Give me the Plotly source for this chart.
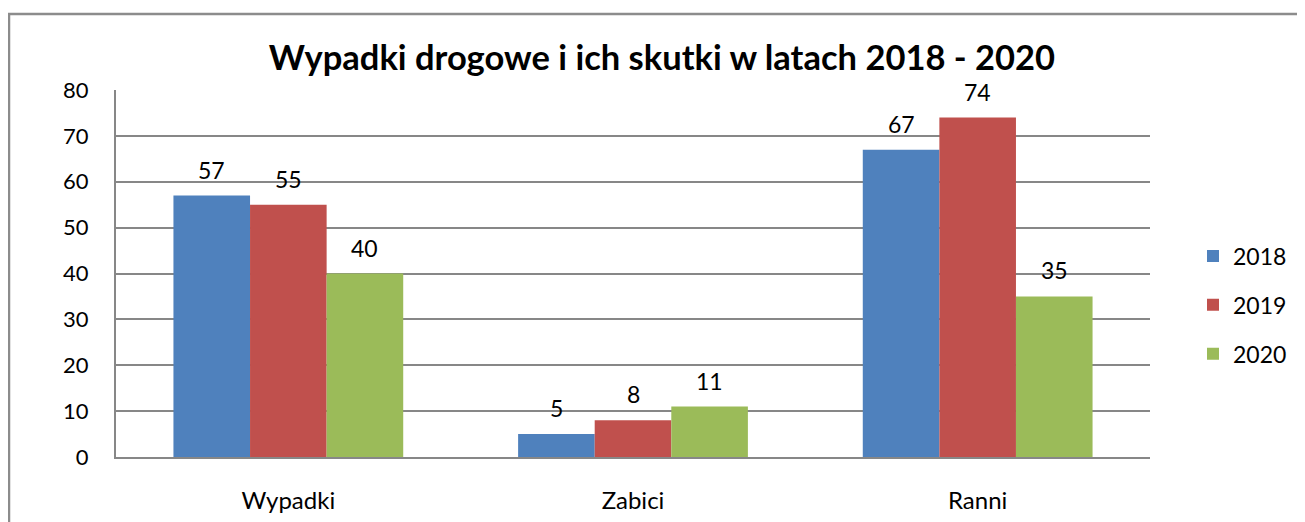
import plotly.graph_objects as go

categories = ["Wypadki", "Zabici", "Ranni"]
years = ["2018", "2019", "2020"]
v2018 = [57, 5, 67]
v2019 = [55, 8, 74]
v2020 = [40, 11, 35]
series = [v2018, v2019, v2020]
colors = ["#4F81BD", "#C0504D", "#9BBB59"]
title = "Wypadki drogowe i ich skutki w latach 2018 - 2020"
yticks = [0, 10, 20, 30, 40, 50, 60, 70, 80]

FONT = "Lato, 'Open Sans', sans-serif"
# page body has an 8px margin, so the figure is 8px smaller and coordinates shifted
W, H = 1297, 514
L, R, T, B = 108, 155, 82, 65
pw, ph = W - L - R, H - T - B

fig = go.Figure()
bargap = 1 / 3
bw = (1 - bargap) / 3
for j, (yr, vals, c) in enumerate(zip(years, series, colors)):
    fig.add_trace(go.Bar(
        x=categories, y=vals, name=yr, marker=dict(color=c, line=dict(width=0)),
        legendgroup=yr,
    ))
    for i, v in enumerate(vals):
        fig.add_annotation(
            x=i + (j - 1) * bw, y=v, text=str(v), showarrow=False,
            xref="x", yref="y", yanchor="bottom", yshift=10,
            font=dict(family=FONT, size=23, color="black"),
        )

fig.update_layout(
    width=W, height=H,
    margin=dict(l=L, r=R, t=T, b=B, autoexpand=False),
    paper_bgcolor="white", plot_bgcolor="white",
    barmode="group", bargap=bargap, bargroupgap=0,
    title=dict(text="<b>" + title + "</b>", x=654 / W, xanchor="center",
               y=1 - 50 / H, yanchor="middle",
               font=dict(family=FONT, size=34.5, color="black")),
    font=dict(family=FONT, color="black"),
    legend=dict(x=(1185 - L) / pw, xanchor="left", y=(H - B - 297) / ph, yanchor="middle",
                font=dict(family=FONT, size=23, color="black"),
                tracegroupgap=16, bgcolor="rgba(0,0,0,0)"),
    showlegend=True,
)
fig.update_yaxes(
    range=[0, 80], tickvals=yticks, showgrid=True, gridcolor="#878787", gridwidth=2,
    showline=True, linecolor="#878787", linewidth=2, zeroline=False,
    tickfont=dict(family=FONT, size=22, color="black"), ticks="",
    ticklabelstandoff=21, automargin=False,
)
fig.update_xaxes(
    showline=True, linecolor="#878787", linewidth=2, ticks="",
    tickfont=dict(family=FONT, size=24, color="black"), ticklabelstandoff=21,
    automargin=False,
)
fig.add_shape(type="rect", xref="paper", yref="paper",
              x0=(1 - L) / pw, x1=(W + 20 - L) / pw,
              y0=(H - B - (H + 20)) / ph, y1=(H - B - 6) / ph,
              line=dict(color="#8C8C8C", width=2.5), fillcolor="rgba(0,0,0,0)", layer="below")

fig.write_html("out.html")
